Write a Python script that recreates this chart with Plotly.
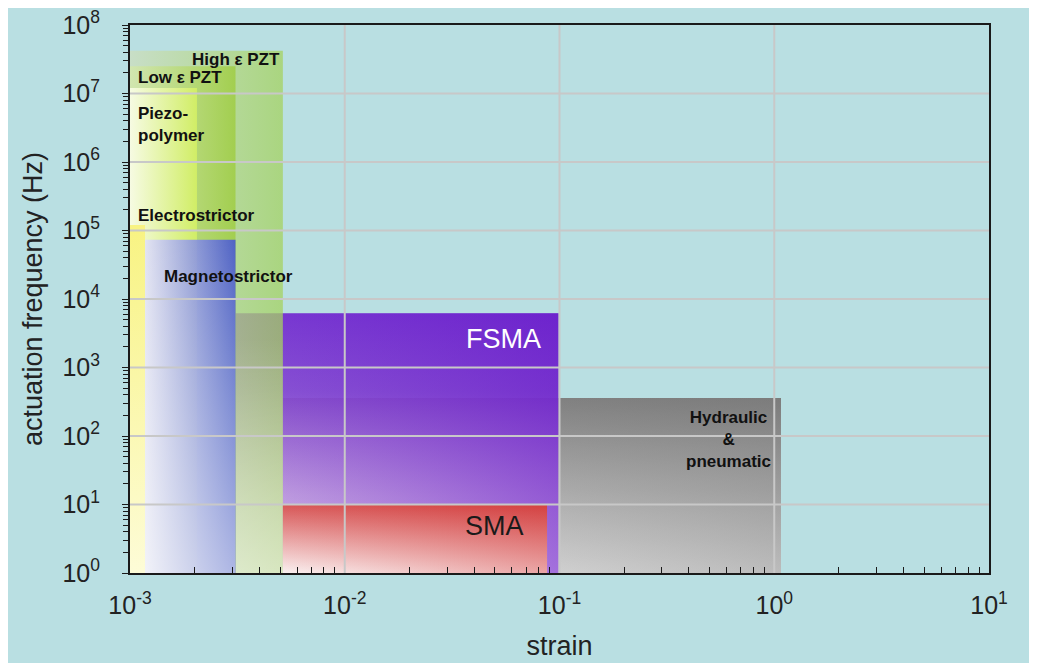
import plotly.graph_objects as go

# ---------------- data ----------------
region_names = ["Hydraulic & pneumatic", "FSMA", "High ε PZT", "Low ε PZT",
                "Piezo-polymer", "Electrostrictor", "Magnetostrictor", "SMA"]
strain_lo = [5.15e-3, 3.1e-3, 1.0e-3, 1.0e-3, 1.0e-3, 1.0e-3, 1.175e-3, 5.15e-3]
strain_hi = [1.075, 0.099, 5.15e-3, 3.1e-3, 2.05e-3, 1.175e-3, 3.1e-3, 0.0875]
freq_lo = [1, 1, 1, 1, 1, 1, 1, 1]
freq_hi = [358, 6.2e3, 4.2e7, 2.5e7, 1.2e7, 1.2e5, 7.3e4, 10.2]

x_decades = [-3, -2, -1, 0, 1]
y_decades = [0, 1, 2, 3, 4, 5, 6, 7, 8]
x_ticktext = ["10<sup>-3</sup>", "10<sup>-2</sup>", "10<sup>-1</sup>", "10<sup>0</sup>", "10<sup>1</sup>"]
y_ticktext = ["10<sup>%d</sup>" % k for k in y_decades]

# ---------------- styles ----------------
# name -> (list of (gradient type, colorscale) layers, opacity)
styles = {
    "Hydraulic & pneumatic": ([("vertical", [[0, "rgb(232,232,232)"], [1, "rgb(134,134,134)"]]),
                               ("horizontal", [[0, "rgba(105,105,105,0)"], [1, "rgba(105,105,105,0.35)"]])], 1.0),
    "FSMA": ([("vertical", [[0, "rgb(228,210,244)"], [0.3, "rgb(195,160,228)"],
                            [0.7, "rgb(132,70,210)"], [1, "rgb(114,40,208)"]]),
              ("horizontal", [[0, "rgba(98,12,200,0)"], [1, "rgba(98,12,200,0.55)"]])], 0.9),
    "High ε PZT": ([("horizontal", [[0, "rgb(205,222,190)"], [1, "rgb(165,210,95)"]]),
                    ("vertical", [[0, "rgba(255,255,255,0.65)"], [0.45, "rgba(255,255,255,0)"],
                                  [1, "rgba(255,255,255,0)"]])], 0.75),
    "Low ε PZT": ([("horizontal", [[0, "rgb(212,232,170)"], [1, "rgb(158,204,62)"]])], 0.8),
    "Piezo-polymer": ([("horizontal", [[0, "rgb(250,253,232)"], [1, "rgb(212,240,100)"]])], 0.9),
    "Electrostrictor": ([("vertical", [[0, "rgb(253,252,215)"], [1, "rgb(248,243,130)"]])], 1.0),
    "Magnetostrictor": ([("horizontal", [[0, "rgb(225,225,248)"], [1, "rgb(68,84,212)"]]),
                         ("vertical", [[0, "rgba(255,255,255,0.6)"], [1, "rgba(255,255,255,0)"]])], 0.88),
    "SMA": ([("vertical", [[0, "rgb(250,240,240)"], [1, "rgb(215,85,85)"]]),
             ("horizontal", [[0, "rgba(205,25,25,0)"], [1, "rgba(205,25,25,0.35)"]])], 1.0),
}

FONT = "Arial, 'Liberation Sans', sans-serif"
TEAL = "#b9dfe2"

fig = go.Figure()


def add_rect(name, x0, x1, y0, y1, gtype, cscale, opacity):
    fig.add_trace(go.Scatter(
        x=[x0, x1, x1, x0, x0], y=[y0, y0, y1, y1, y0],
        mode="lines", line=dict(width=0), fill="toself",
        fillgradient=dict(type=gtype, colorscale=cscale),
        opacity=opacity, name=name, showlegend=False, hoverinfo="name",
    ))


for i, name in enumerate(region_names):
    layers, op = styles[name]
    for gtype, cscale in layers:
        add_rect(name, strain_lo[i], strain_hi[i], freq_lo[i], freq_hi[i], gtype, cscale, op)

# grid lines drawn above the regions
shapes = []
for k in x_decades[1:-1]:
    shapes.append(dict(type="line", xref="x", yref="paper", x0=10 ** k, x1=10 ** k, y0=0, y1=1,
                       line=dict(color="rgb(200,200,200)", width=2), layer="above"))
for k in y_decades[1:-1]:
    shapes.append(dict(type="line", xref="paper", yref="y", x0=0, x1=1, y0=10 ** k, y1=10 ** k,
                       line=dict(color="rgb(200,200,200)", width=2), layer="above"))

label_font = dict(family=FONT, size=17, color="#111111")
bold = lambda s: "<b>%s</b>" % s
annotations = [
    dict(x=-2.29, y=7.50, text=bold("High ε PZT"), xanchor="right", font=label_font),
    dict(x=-2.972, y=7.23, text=bold("Low ε PZT"), xanchor="left", font=label_font),
    dict(x=-2.972, y=6.55, text=bold("Piezo-<br>polymer"), xanchor="left", align="left", font=label_font),
    dict(x=-2.972, y=5.22, text=bold("Electrostrictor"), xanchor="left", font=label_font),
    dict(x=-2.85, y=4.33, text=bold("Magnetostrictor"), xanchor="left", font=label_font),
    dict(x=-1.075, y=3.41, text="FSMA", xanchor="right",
         font=dict(family=FONT, size=27, color="white")),
    dict(x=-1.305, y=0.68, text="SMA", xanchor="center",
         font=dict(family=FONT, size=27, color="#1a1a1a")),
    dict(x=-0.215, y=1.95, text=bold("Hydraulic<br>&<br>pneumatic"), xanchor="center", align="center",
         font=label_font),
]
for a in annotations:
    a.update(xref="x", yref="y", showarrow=False)

x_minor = [m * 10 ** k for k in x_decades[:-1] for m in range(2, 10)]
y_minor = [m * 10 ** k for k in y_decades[:-1] for m in range(2, 10)]

axis_common = dict(
    showgrid=False, zeroline=False, showline=True, linecolor="#1a1a1a", linewidth=2,
    mirror=True, tickcolor="#1a1a1a", tickwidth=1.3, ticklen=6, automargin=False,
    ticklabeloverflow="allow",
    tickfont=dict(family=FONT, size=25, color="#222222"),
)

fig.update_layout(
    width=1037, height=663, autosize=False,
    margin=dict(l=122, r=56, t=17, b=98),
    paper_bgcolor=TEAL, plot_bgcolor=TEAL,
    shapes=shapes, annotations=annotations,
    xaxis=dict(type="log", range=[-3, 1], tickvals=[10 ** k for k in x_decades], ticktext=x_ticktext,
               ticks="inside", ticklabelstandoff=9,
               minor=dict(tickvals=x_minor, ticks="inside", ticklen=6, tickcolor="#1a1a1a", tickwidth=1.3),
               title=dict(text="strain", font=dict(family=FONT, size=27, color="#222222"), standoff=18),
               **axis_common),
    yaxis=dict(type="log", range=[0, 8], tickvals=[10 ** k for k in y_decades], ticktext=y_ticktext,
               ticks="outside", ticklabelstandoff=17,
               minor=dict(tickvals=y_minor, ticks="outside", ticklen=5, tickcolor="#1a1a1a", tickwidth=1.3),
               title=dict(text="actuation frequency (Hz)", font=dict(family=FONT, size=27, color="#222222"),
                          standoff=12),
               **axis_common),
)

fig.write_html("out.html")
